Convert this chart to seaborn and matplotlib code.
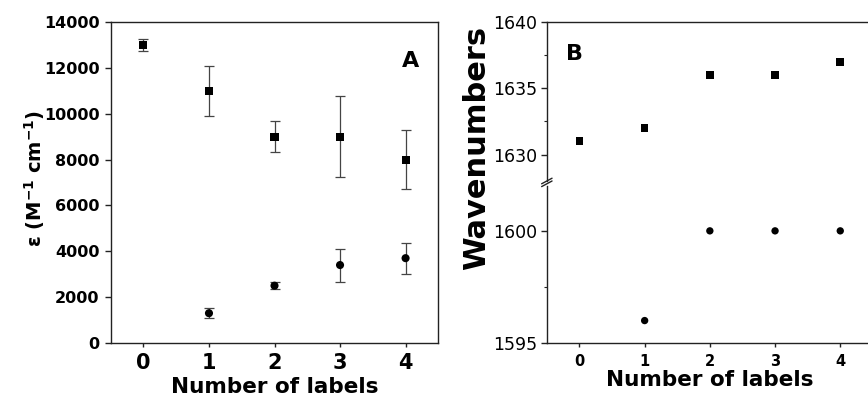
import numpy as np
import pandas as pd
import matplotlib
matplotlib.use("Agg")
import matplotlib.pyplot as plt
import seaborn as sns
from matplotlib.ticker import MultipleLocator

# ---- data ----
n_labels_sq = [0, 1, 2, 3, 4]
eps_sq = [13000, 11000, 9000, 9000, 8000]
eps_sq_err = [270, 1080, 680, 1770, 1300]
n_labels_ci = [1, 2, 3, 4]
eps_ci = [1300, 2500, 3400, 3700]
eps_ci_err = [210, 160, 720, 680]

wn_sq_x = [0, 1, 2, 3, 4]
wn_sq = [1631, 1632, 1636, 1636, 1637]
wn_ci_x = [1, 2, 3, 4]
wn_ci = [1596, 1600, 1600, 1600]

x_ticks = [0, 1, 2, 3, 4]

sns.set_style("ticks")
plt.rcParams['font.family'] = ['DejaVu Sans']
plt.rcParams['axes.linewidth'] = 1.0
plt.rcParams['axes.edgecolor'] = '#222222'
for k in ('text.color', 'axes.labelcolor', 'xtick.labelcolor', 'ytick.labelcolor'):
    plt.rcParams[k] = 'black'
plt.rcParams['xtick.color'] = '#222222'
plt.rcParams['ytick.color'] = '#222222'

fig = plt.figure(figsize=(8.68, 4), dpi=100)

# ---------- Panel A ----------
axA = fig.add_axes([0.1275, 0.1425, 0.3775, 0.8025])
dfA_sq = pd.DataFrame({"n": n_labels_sq, "eps": eps_sq})
dfA_ci = pd.DataFrame({"n": n_labels_ci, "eps": eps_ci})
axA.errorbar(n_labels_sq, eps_sq, yerr=eps_sq_err, fmt='none', ecolor='#444444',
             elinewidth=0.9, capsize=3.5, capthick=0.9, zorder=2)
axA.errorbar(n_labels_ci, eps_ci, yerr=eps_ci_err, fmt='none', ecolor='#444444',
             elinewidth=0.9, capsize=3.5, capthick=0.9, zorder=2)
sns.scatterplot(data=dfA_sq, x="n", y="eps", marker="s", s=34, color="black",
                edgecolor="none", ax=axA, zorder=3)
sns.scatterplot(data=dfA_ci, x="n", y="eps", marker="o", s=34, color="black",
                edgecolor="none", ax=axA, zorder=3)
axA.set_xlim(-0.5, 4.5)
axA.set_ylim(0, 14000)
axA.set_xticks(x_ticks)
axA.set_yticks(np.arange(0, 14001, 2000))
axA.tick_params(axis='y', direction='out', length=4, width=1, labelsize=11.5, pad=4)
axA.tick_params(axis='x', direction='out', length=3, width=1, labelsize=15, pad=4)
for lab in axA.get_xticklabels() + axA.get_yticklabels():
    lab.set_fontweight('bold')
axA.set_xlabel("Number of labels", fontsize=15.5, fontweight='bold', labelpad=3)
axA.set_ylabel("")
fig.text(0.040, 0.555, "ε (M$^{\\mathbf{-1}}$ cm$^{\\mathbf{-1}}$)", rotation=90,
         ha='center', va='center', fontsize=14, fontweight='bold')
axA.text(0.94, 0.88, "A", transform=axA.transAxes, ha='right', va='center',
         fontsize=16, fontweight='bold')

# ---------- Panel B (broken axis) ----------
left_b = 0.630
w_b = 0.3756
axBt = fig.add_axes([left_b, 0.5475, w_b, 0.3975])
axBb = fig.add_axes([left_b, 0.1425, w_b, 0.3925])

dfB_sq = pd.DataFrame({"n": wn_sq_x, "wn": wn_sq})
dfB_ci = pd.DataFrame({"n": wn_ci_x, "wn": wn_ci})
for ax in (axBt, axBb):
    sns.scatterplot(data=dfB_sq, x="n", y="wn", marker="s", s=30, color="black",
                    edgecolor="none", ax=ax, zorder=3)
    sns.scatterplot(data=dfB_ci, x="n", y="wn", marker="o", s=28, color="black",
                    edgecolor="none", ax=ax, zorder=3)
    ax.set_xlim(-0.5, 4.5)
    ax.set_xlabel("")
    ax.set_ylabel("")

axBt.set_ylim(1628, 1640)
axBt.set_yticks([1630, 1635, 1640])
axBt.yaxis.set_minor_locator(MultipleLocator(2.5))
axBt.spines['bottom'].set_visible(False)
axBt.tick_params(axis='x', which='both', bottom=False, labelbottom=False)
axBt.tick_params(axis='y', which='major', direction='out', length=4, width=1,
                 labelsize=12.5, pad=3)
axBt.tick_params(axis='y', which='minor', direction='out', length=2.5, width=0.8)

axBb.set_ylim(1595, 1602)
axBb.set_yticks([1595, 1600])
axBb.yaxis.set_minor_locator(MultipleLocator(2.5))
axBb.spines['top'].set_visible(False)
axBb.set_xticks(x_ticks)
axBb.tick_params(axis='y', which='major', direction='out', length=4, width=1,
                 labelsize=12.5, pad=3)
axBb.tick_params(axis='y', which='minor', direction='out', length=2.5, width=0.8)
axBb.tick_params(axis='x', direction='out', length=3, width=1, labelsize=10.5, pad=5)
for lab in axBb.get_xticklabels():
    lab.set_fontweight('bold')
axBb.set_xlabel("Number of labels", fontsize=15.5, fontweight='bold', labelpad=1)

fig.text(0.5495, 0.63, "Wavenumbers", rotation=90, ha='center', va='center',
         fontsize=22, fontweight='bold')
axBt.text(0.06, 0.80, "B", transform=axBt.transAxes, ha='left', va='center',
          fontsize=16, fontweight='bold')

# break marks on the left spine
xb = left_b
for yb in (0.5475, 0.5405):
    fig.add_artist(plt.Line2D([xb - 0.006, xb + 0.006], [yb - 0.007, yb + 0.007],
                              color='#222222', lw=1.0, transform=fig.transFigure))

fig.savefig("out.png", dpi=100)
